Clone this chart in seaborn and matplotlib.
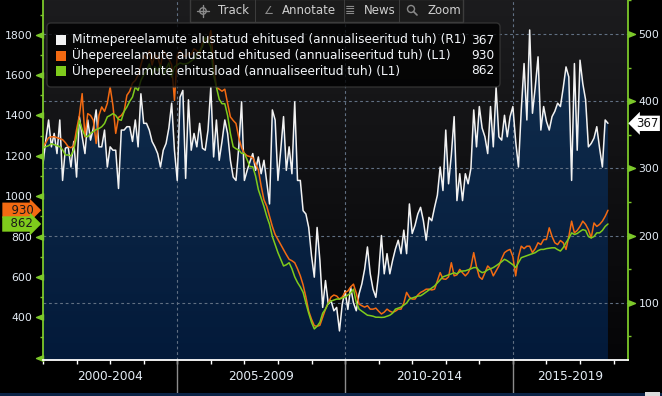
import matplotlib
matplotlib.use('Agg')
import matplotlib.pyplot as plt
import matplotlib.transforms as mtransforms
from matplotlib.colors import LinearSegmentedColormap
from matplotlib.patches import FancyBboxPatch, Rectangle, Polygon, Circle
from matplotlib.lines import Line2D
from matplotlib.path import Path
import numpy as np
import pandas as pd
import seaborn as sns

# monthly values, Jan 2001 .. Nov 2017 (annualised, thousands)
# R1: multi-family starts
mitme = [
    307, 342, 372, 332, 352, 322, 372, 282, 330, 332, 302, 340,  # 2001
    287, 377, 347, 322, 372, 342, 360, 387, 332, 332, 357, 302,  # 2002
    332, 327, 327, 270, 357, 357, 362, 362, 340, 372, 332, 411,  # 2003
    367, 367, 357, 340, 332, 322, 302, 327, 337, 360, 397, 327,  # 2004
    282, 406, 416, 285, 402, 327, 352, 332, 367, 330, 327, 357,  # 2005
    421, 317, 372, 312, 340, 372, 352, 312, 287, 282, 332, 399,  # 2006
    282, 297, 310, 322, 297, 317, 292, 312, 280, 247, 387, 372,  # 2007
    282, 327, 377, 297, 332, 292, 399, 282, 282, 237, 232, 212,  # 2008
    170, 138, 212, 163, 93, 133, 98, 103, 88, 93, 58, 98,        # 2009
    118, 90, 123, 100, 88, 113, 128, 150, 183, 143, 120, 108,    # 2010
    143, 200, 143, 173, 143, 163, 180, 193, 173, 208, 173, 247,  # 2011
    203, 215, 232, 242, 222, 193, 227, 222, 242, 260, 302, 267,  # 2012
    357, 277, 320, 377, 252, 292, 252, 292, 277, 300, 387, 332,  # 2013
    392, 360, 347, 322, 392, 332, 421, 347, 342, 379, 347, 377,  # 2014
    392, 340, 302, 387, 456, 372, 506, 382, 421, 466, 357, 392,  # 2015
    370, 357, 377, 385, 397, 392, 420, 451, 436, 282, 456, 327,  # 2016
    461, 426, 402, 332, 337, 345, 362, 330, 302, 372, 367,       # 2017
]
# L1: single-family starts
alustatud = [
    1245, 1265, 1290, 1294, 1294, 1290, 1285, 1280, 1265, 1245, 1240, 1250,
    1330, 1400, 1508, 1294, 1409, 1400, 1376, 1261, 1400, 1442, 1420, 1460,
    1541, 1450, 1311, 1390, 1400, 1420, 1500, 1520, 1560, 1573, 1600, 1650,
    1700, 1680, 1720, 1650, 1700, 1690, 1640, 1720, 1700, 1680, 1650, 1475,
    1700, 1720, 1700, 1690, 1710, 1700, 1730, 1720, 1700, 1760, 1780, 1760,
    1820, 1650, 1541, 1530, 1520, 1530, 1460, 1393, 1375, 1360, 1290, 1240,
    1212, 1200, 1196, 1190, 1160, 1130, 1050, 982, 950, 900, 850, 810,
    785, 760, 736, 710, 687, 680, 670, 640, 605, 560, 500, 430,
    390, 358, 355, 360, 400, 440, 470, 500, 510, 505, 490, 500,
    523, 530, 550, 564, 520, 465, 457, 450, 457, 440, 440, 445,
    430, 416, 425, 440, 430, 424, 430, 440, 440, 470, 523, 500,
    490, 490, 510, 523, 530, 539, 539, 535, 539, 580, 621, 590,
    588, 600, 670, 605, 610, 637, 620, 605, 620, 650, 720, 650,
    600, 588, 620, 654, 640, 605, 630, 654, 690, 720, 730, 736,
    700, 605, 700, 752, 740, 752, 752, 720, 740, 769, 760, 785,
    785, 843, 800, 769, 760, 780, 769, 736, 800, 876, 818, 830,
    850, 876, 860, 834, 793, 867, 850, 860, 876, 900, 930,
]
# L1: single-family permits
load = [
    1237, 1245, 1250, 1260, 1255, 1250, 1245, 1230, 1204, 1204, 1200, 1230,
    1294, 1376, 1330, 1300, 1294, 1311, 1320, 1330, 1335, 1344, 1360, 1393,
    1400, 1409, 1400, 1380, 1376, 1420, 1442, 1470, 1491, 1541, 1524, 1573,
    1600, 1620, 1655, 1600, 1640, 1620, 1650, 1600, 1630, 1660, 1590, 1640,
    1650, 1660, 1655, 1655, 1660, 1670, 1680, 1700, 1720, 1740, 1787, 1770,
    1738, 1600, 1541, 1480, 1458, 1458, 1400, 1311, 1245, 1235, 1229, 1212,
    1212, 1180, 1146, 1146, 1100, 1032, 990, 949, 900, 860, 800, 760,
    720, 687, 654, 660, 670, 640, 600, 572, 550, 523, 470, 420,
    375, 342, 355, 375, 420, 440, 470, 480, 485, 490, 490, 495,
    500, 510, 520, 539, 475, 440, 430, 420, 410, 408, 405, 400,
    400, 399, 400, 405, 410, 420, 440, 445, 450, 460, 470, 490,
    495, 500, 505, 506, 515, 525, 535, 545, 555, 570, 585, 600,
    605, 610, 615, 620, 615, 625, 629, 630, 635, 640, 646, 646,
    630, 621, 625, 635, 640, 646, 655, 665, 675, 687, 680, 670,
    660, 646, 670, 695, 700, 705, 710, 715, 720, 730, 736, 736,
    740, 742, 744, 744, 735, 728, 745, 770, 790, 818, 810, 815,
    825, 834, 830, 800, 793, 800, 818, 818, 830, 850, 862,
]

legend_labels = [
    'Mitmepereelamute alustatud ehitused (annualiseeritud tuh) (R1)',
    'Ühepereelamute alustatud ehitused (annualiseeritud tuh) (L1)',
    'Ühepereelamute ehitusload (annualiseeritud tuh) (L1)',
]
period_labels = ['2000-2004', '2005-2009', '2010-2014', '2015-2019']
period_edges = [2001, 2005, 2010, 2015]
left_ticks = [200, 400, 600, 800, 1000, 1200, 1400, 1600, 1800]
right_ticks = [100, 200, 300, 400, 500]
toolbar_items = ['Track', 'Annotate', 'News', 'Zoom']

WHITE = '#f2f2f2'
ORANGE = '#f36a12'
GREEN = '#7fcb1c'
AXGREEN = '#7cc82a'
LABEL = '#e4ecf5'
ICON = '#8a8a8a'

df = pd.DataFrame({
    'aeg': 2001 + np.arange(len(mitme)) / 12,
    'mitme': mitme,
    'alustatud': alustatud,
    'load': load,
})

sns.set_style('dark')
plt.rcParams['font.family'] = ['DejaVu Sans']

W, H = 662, 396
fig = plt.figure(figsize=(W / 100, H / 100), dpi=100, facecolor='black')
ax = fig.add_axes([43 / W, 36 / H, 585 / W, 360 / H])
ax2 = ax.twinx()
ax.set_zorder(3)
ax2.set_zorder(2)
ax.patch.set_visible(False)

# background gradient + navy area under the R1 series
grad = np.linspace(0, 1, 256).reshape(-1, 1)
bg_cmap = LinearSegmentedColormap.from_list('bg', ['#1c1c1e', '#050507'])
navy_cmap = LinearSegmentedColormap.from_list('navy', ['#133050', '#031a3a'])
ax2.imshow(grad, cmap=bg_cmap, extent=[0, 1, 0, 1], transform=ax2.transAxes,
           aspect='auto', zorder=0)
navy = ax2.imshow(grad, cmap=navy_cmap, extent=[0, 1, 0, 1], transform=ax2.transAxes,
                  aspect='auto', zorder=1)
t = df['aeg'].to_numpy()
verts = np.column_stack([np.r_[t[0], t, t[-1]], np.r_[0, df['mitme'].to_numpy(), 0]])
clip = Polygon(verts, closed=True, transform=ax2.transData, fc='none', ec='none')
ax2.add_patch(clip)
navy.set_clip_path(clip)

# grid
for v in right_ticks:
    ax2.axhline(v, color='#617083', lw=0.8, ls=(0, (2.5, 2.5)), zorder=2)
for yr in period_edges[1:]:
    ax2.axvline(yr, color='#617083', lw=0.8, ls=(0, (2.5, 2.5)), zorder=2)

sns.lineplot(data=df, x='aeg', y='mitme', ax=ax2, color=WHITE, lw=1.1, zorder=4)
sns.lineplot(data=df, x='aeg', y='alustatud', ax=ax, color=ORANGE, lw=1.1)
sns.lineplot(data=df, x='aeg', y='load', ax=ax, color=GREEN, lw=1.1)

ax.set_xlim(2001, 2018.43)
ax.set_ylim(188, 1972)
ax2.set_ylim(14.7, 550.6)
for a in (ax, ax2):
    a.set_xlabel('')
    a.set_ylabel('')
    for s in a.spines.values():
        s.set_visible(False)
ax.spines['left'].set_visible(True)
ax.spines['left'].set_color(AXGREEN)
ax.spines['left'].set_linewidth(1.3)
ax.spines['bottom'].set_visible(True)
ax.spines['bottom'].set_color('white')
ax.spines['bottom'].set_linewidth(1.3)
ax2.spines['right'].set_visible(True)
ax2.spines['right'].set_color(AXGREEN)
ax2.spines['right'].set_linewidth(1.3)

# y ticks
ax.set_yticks(left_ticks)
ax.set_yticklabels(['' if v == left_ticks[0] else str(v) for v in left_ticks])
ax.set_yticks([v + 100 for v in left_ticks], minor=True)
ax.tick_params(axis='y', which='major', left=True, colors=AXGREEN, labelcolor=LABEL,
               labelsize=7.8, length=5, width=1, pad=2.5)
ax.tick_params(axis='y', which='minor', left=True, colors=AXGREEN, length=2.5, width=1)
ax2.set_yticks(right_ticks)
ax2.set_yticks([v - 50 for v in right_ticks] + [right_ticks[-1] + 50], minor=True)
ax2.tick_params(axis='y', which='major', right=True, colors=AXGREEN, labelcolor=LABEL,
                labelsize=7.8, length=5, width=1, pad=2.5)
ax2.tick_params(axis='y', which='minor', right=True, colors=AXGREEN, length=2.5, width=1)

# x ticks: one per year, no labels
ax.set_xticks(range(2001, 2019))
ax.set_xticklabels([])
ax.tick_params(axis='x', which='major', bottom=True, colors='white', length=3, width=1)
ax.tick_params(axis='x', which='minor', bottom=False)

tr_bottom = mtransforms.blended_transform_factory(ax.transData, ax.transAxes)
edges = period_edges + [ax.get_xlim()[1]]
for yr in period_edges[1:]:
    ax.add_artist(Line2D([yr, yr], [0, -0.092], transform=tr_bottom, clip_on=False,
                         color='#8c8c8c', lw=1))
for lab, a0, a1 in zip(period_labels, edges[:-1], edges[1:]):
    ax.text((a0 + a1) / 2, -0.047, lab, transform=tr_bottom, ha='center', va='center',
            color=LABEL, fontsize=8.7, clip_on=False)

# value tags on the axes
tr_left = mtransforms.blended_transform_factory(ax.transAxes, ax.transData)
tr_right = mtransforms.blended_transform_factory(ax2.transAxes, ax2.transData)
for val, col in [(alustatud[-1], ORANGE), (load[-1], GREEN)]:
    ax.annotate(f'  {val}', xy=(0, val), xycoords=tr_left, xytext=(-7, 0),
                textcoords='offset points', ha='right', va='center', fontsize=8.5,
                color='#1a1a1a', annotation_clip=False,
                bbox=dict(boxstyle='rarrow,pad=0.1', fc=col, ec='none'))
ax2.annotate(f'{mitme[-1]}', xy=(1, mitme[-1]), xycoords=tr_right, xytext=(6, 0),
             textcoords='offset points', ha='left', va='center', fontsize=8.5,
             color='#111111', annotation_clip=False,
             bbox=dict(boxstyle='larrow,pad=0.1', fc='white', ec='none'))

# custom triangle tick marks
left_tri = Path([(0, 0.4), (-1, 0), (0, -0.4), (0, 0.4)], closed=True)
right_tri = Path([(0, 0.4), (1, 0), (0, -0.4), (0, 0.4)], closed=True)
for tk in ax.yaxis.get_major_ticks():
    tk.tick1line.set_marker(left_tri)
    tk.tick1line.set_markersize(10)
    tk.tick1line.set_markerfacecolor(AXGREEN)
    tk.tick1line.set_markeredgecolor(AXGREEN)
for tk in ax2.yaxis.get_major_ticks():
    tk.tick2line.set_marker(right_tri)
    tk.tick2line.set_markersize(10)
    tk.tick2line.set_markerfacecolor(AXGREEN)
    tk.tick2line.set_markeredgecolor(AXGREEN)

# figure overlays in pixel coordinates (top-left origin)
pix = mtransforms.Affine2D().scale(1, -1).translate(0, H)


def box(x, y, w, h, **kw):
    fig.add_artist(Rectangle((x, y), w, h, transform=pix, **kw))


def seg(xs, ys, **kw):
    fig.add_artist(Line2D(xs, ys, transform=pix, zorder=11, **kw))


# legend
fig.add_artist(FancyBboxPatch((47, 23), 453, 64, transform=pix,
                              boxstyle='round,pad=0,rounding_size=4',
                              fc='#000000', alpha=0.78, ec='#3a3a3a', lw=1, zorder=10))
for i, (lab, col, val) in enumerate(zip(legend_labels, [WHITE, ORANGE, GREEN],
                                        [mitme[-1], alustatud[-1], load[-1]])):
    yc = 40 + i * 15.5
    box(56, yc - 5, 10, 10, fc=col, ec='none', zorder=11)
    fig.text(72 / W, 1 - yc / H, lab, color='#f3f6fa', fontsize=8.75, va='center',
             ha='left', zorder=11)
    fig.text(494 / W, 1 - yc / H, str(val), color='#f3f6fa', fontsize=8.75, va='center',
             ha='right', zorder=11)

# toolbar
box(190, -1, 273, 23, fc='#1b1b1b', ec='#3c3c3c', lw=1, zorder=10)
for sx in [255, 344, 399]:
    box(sx, 0, 1, 22, fc='#3c3c3c', ec='none', zorder=11)
for lab, tx in zip(toolbar_items, [218, 282, 364, 427]):
    fig.text(tx / W, 1 - 11 / H, lab, color='#cfcfcf', fontsize=8.5, va='center',
             ha='left', zorder=11)
# crosshair icon
fig.add_artist(Circle((203, 11), 3.2, transform=pix, fc='none', ec=ICON, lw=1, zorder=11))
seg([197, 209], [11, 11], color=ICON, lw=1)
seg([203, 203], [5, 17], color=ICON, lw=1)
fig.text(268 / W, 1 - 11 / H, '∠', color=ICON, fontsize=8, va='center',
         ha='center', zorder=11)
fig.text(350 / W, 1 - 11 / H, '≣', color=ICON, fontsize=9, va='center',
         ha='center', zorder=11)
# magnifier icon
fig.add_artist(Circle((411, 9), 3.5, transform=pix, fc='none', ec=ICON, lw=1, zorder=11))
seg([413.5, 417], [11.5, 15], color=ICON, lw=1.2)

# bottom frame strip
box(0, 393, W, 3, fc='#0b2346', ec='none', zorder=10)
box(645, 392, 15, 4, fc='#dcdcdc', ec='none', zorder=11)

fig.savefig('out.png', dpi=100, facecolor='black')
